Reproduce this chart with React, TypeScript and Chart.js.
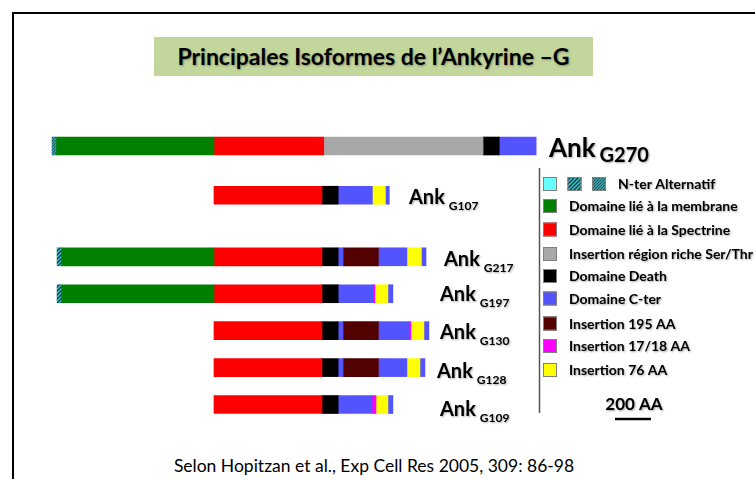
import React, { useEffect, useRef } from 'react';
import { Chart, registerables } from 'chart.js';

Chart.register(...registerables);

// ---- data (amino-acid positions) ----
const isoforms = ['G270', 'G107', 'G217', 'G197', 'G130', 'G128', 'G109'];
const rowSlots = [0, 4, 9, 12, 15, 18, 21];

const segG270 = [['nterDot', 0, 22], ['membrane', 22, 900], ['spectrin', 900, 1510], ['serThr', 1510, 2395], ['death', 2395, 2485], ['cter', 2485, 2690]];
const segG107 = [['spectrin', 900, 1500], ['death', 1500, 1590], ['cter', 1590, 1780], ['ins76', 1780, 1856], ['cter', 1856, 1874]];
const segG217 = [['nterHatch', 28, 50], ['membrane', 50, 900], ['spectrin', 900, 1500], ['death', 1500, 1590], ['cter', 1590, 1617], ['ins195', 1617, 1817], ['cter', 1817, 1972], ['ins76', 1972, 2056], ['cter', 2056, 2078]];
const segG197 = [['nterHatch', 28, 50], ['membrane', 50, 900], ['spectrin', 900, 1500], ['death', 1500, 1590], ['cter', 1590, 1783], ['ins17', 1783, 1794], ['ins76', 1794, 1870], ['cter', 1870, 1894]];
const segG130 = [['spectrin', 900, 1500], ['death', 1500, 1590], ['cter', 1590, 1617], ['ins195', 1617, 1817], ['cter', 1817, 1983], ['ins17', 1983, 1994], ['ins76', 1994, 2070], ['cter', 2070, 2094]];
const segG128 = [['spectrin', 900, 1500], ['death', 1500, 1590], ['cter', 1590, 1617], ['ins195', 1617, 1817], ['cter', 1817, 1972], ['ins76', 1972, 2048], ['cter', 2048, 2072]];
const segG109 = [['spectrin', 900, 1500], ['death', 1500, 1590], ['cter', 1590, 1778], ['ins17', 1778, 1800], ['ins76', 1800, 1870], ['cter', 1870, 1894]];
const allSegments = [segG270, segG107, segG217, segG197, segG130, segG128, segG109];

const domainKeys = ['nterCyan', 'nterHatch', 'nterDot', 'membrane', 'spectrin', 'serThr', 'death', 'cter', 'ins195', 'ins17', 'ins76'];
const legendLabels = ['N-ter Alternatif', 'Domaine lié à la membrane', 'Domaine lié à la Spectrine', 'Insertion région riche Ser/Thr', 'Domaine Death', 'Domaine C-ter', 'Insertion 195 AA', 'Insertion 17/18 AA', 'Insertion 76 AA'];
const legendSwatches = [['nterCyan', 'nterHatch', 'nterDot'], ['membrane'], ['spectrin'], ['serThr'], ['death'], ['cter'], ['ins195'], ['ins17'], ['ins76']];
const scaleBarAA = 200;

const domainColors: Record<string, string> = {
  nterCyan: '#66ffff',
  membrane: '#008000',
  spectrin: '#ff0000',
  serThr: '#a8a8a8',
  death: '#000000',
  cter: '#5454ff',
  ins195: '#520000',
  ins17: '#ff00ff',
  ins76: '#ffff00',
};

const FONT = 'Lato, "Open Sans", sans-serif';

function makePatterns(ctx: CanvasRenderingContext2D) {
  const h = document.createElement('canvas');
  h.width = 4; h.height = 4;
  const hg = h.getContext('2d')!;
  hg.fillStyle = '#35c8cc';
  hg.fillRect(0, 0, 4, 4);
  hg.strokeStyle = '#173a48';
  hg.lineWidth = 1.4;
  hg.beginPath();
  hg.moveTo(0, 4); hg.lineTo(4, 0);
  hg.moveTo(-1, 1); hg.lineTo(1, -1);
  hg.moveTo(3, 5); hg.lineTo(5, 3);
  hg.stroke();
  const d = document.createElement('canvas');
  d.width = 3; d.height = 3;
  const dg = d.getContext('2d')!;
  dg.fillStyle = '#3a9a9c';
  dg.fillRect(0, 0, 3, 3);
  dg.fillStyle = '#1c5a66';
  dg.fillRect(0, 0, 1, 1);
  dg.fillRect(2, 1, 1, 1);
  dg.fillRect(1, 2, 1, 1);
  return {
    nterHatch: ctx.createPattern(h, 'repeat')!,
    nterDot: ctx.createPattern(d, 'repeat')!,
  };
}

export default function App() {
  const canvasRef = useRef<HTMLCanvasElement | null>(null);

  useEffect(() => {
    const canvas = canvasRef.current!;
    const ctx = canvas.getContext('2d')!;
    const patterns = makePatterns(ctx);
    const fillFor = (k: string): any => (patterns as any)[k] || domainColors[k];

    const datasets = domainKeys
      .map((key) => {
        const data: any[] = [];
        allSegments.forEach((segs, i) => {
          segs.forEach((s) => {
            if (s[0] === key) data.push({ x: [s[1] as number, s[2] as number], y: rowSlots[i] });
          });
        });
        return {
          label: key,
          data,
          backgroundColor: fillFor(key),
          borderWidth: 0,
          barThickness: 18,
          grouped: false,
        };
      })
      .filter((d) => d.data.length > 0);

    const annot = {
      id: 'isoAnnot',
      afterDraw(chart: any) {
        const c = chart.ctx as CanvasRenderingContext2D;
        const ys = chart.scales.y;
        const xs = chart.scales.x;
        c.save();
        c.shadowColor = 'rgba(0,0,0,0.35)';
        c.shadowOffsetX = 1;
        c.shadowOffsetY = 1;
        c.shadowBlur = 2;
        c.fillStyle = '#000';
        c.textBaseline = 'alphabetic';
        // isoform labels
        const labelX = [549, 409, 444, 440, 440, 437, 440];
        const dy = [11, 9, 9.5, 7.5, 8.5, 10, 11];
        isoforms.forEach((name, i) => {
          const y = ys.getPixelForValue(rowSlots[i]);
          const big = i === 0;
          c.font = `bold ${big ? 26 : 20}px ${FONT}`;
          c.fillText('Ank', labelX[i], y + dy[i]);
          const w = c.measureText('Ank').width;
          c.font = `bold ${big ? 20 : 12}px ${FONT}`;
          c.fillText(name, labelX[i] + w + 4, y + dy[i] + (big ? 5 : 6));
        });
        // legend separator
        c.shadowColor = 'transparent';
        c.strokeStyle = '#555';
        c.lineWidth = 1.5;
        c.beginPath();
        c.moveTo(539.5, 168);
        c.lineTo(539.5, 413);
        c.stroke();
        // legend entries
        const rowY = [184, 206, 229.5, 254, 276, 298.5, 323.5, 346, 370];
        legendLabels.forEach((label, r) => {
          const y = rowY[r];
          legendSwatches[r].forEach((k, j) => {
            const x = 543 + j * 24.5;
            c.shadowColor = 'transparent';
            c.fillStyle = fillFor(k);
            c.fillRect(x, y - 7, 14, 14);
            c.strokeStyle = '#7f7f7f';
            c.lineWidth = 1;
            c.strokeRect(x + 0.5, y - 6.5, 13, 13);
          });
          c.shadowColor = 'rgba(0,0,0,0.35)';
          c.fillStyle = '#000';
          c.font = `bold 14px ${FONT}`;
          c.textBaseline = 'middle';
          c.fillText(label, r === 0 ? 618 : 569, y + 0.5);
        });
        // scale bar
        c.textBaseline = 'alphabetic';
        c.font = `bold 17px ${FONT}`;
        c.textAlign = 'center';
        const x0 = xs.getPixelForValue(3128);
        const x1 = xs.getPixelForValue(3128 + scaleBarAA);
        c.fillText(`${scaleBarAA} AA`, (x0 + x1) / 2 + 1, 410);
        c.shadowColor = 'transparent';
        c.strokeStyle = '#000';
        c.lineWidth = 2.5;
        c.beginPath();
        c.moveTo(x0, 419);
        c.lineTo(x1, 419);
        c.stroke();
        c.restore();
      },
    };

    const chart = new Chart(canvas, {
      type: 'bar',
      data: { datasets: datasets as any },
      options: {
        indexAxis: 'y',
        animation: false,
        responsive: false,
        events: [],
        layout: { padding: 0 },
        scales: {
          x: { type: 'linear', min: -289, max: 3906, display: false, offset: false, stacked: false },
          y: { type: 'linear', min: -11.86, max: 27.05, reverse: true, display: false, offset: false },
        },
        plugins: { legend: { display: false }, tooltip: { enabled: false }, title: { display: false } },
      },
      plugins: [annot],
    });
    return () => chart.destroy();
  }, []);

  return (
    <div style={{ position: 'absolute', left: 0, top: 0, width: 755, height: 479, background: '#fff', overflow: 'hidden' }}>
      <div style={{ position: 'absolute', left: 12, top: 12, width: 760, height: 480, borderLeft: '2px solid #000', borderTop: '2px solid #000' }} />
      <div
        style={{
          position: 'absolute', left: 154, top: 37, width: 439, height: 39, background: '#c3d69b',
          font: `bold 23px ${FONT}`, color: '#000', lineHeight: '39px', textAlign: 'center',
          textShadow: '1px 1px 2px rgba(0,0,0,0.35)', whiteSpace: 'nowrap',
        }}
      >
        Principales Isoformes de l’Ankyrine –G
      </div>
      <div
        style={{
          position: 'absolute', left: 0, top: 454, width: 748, height: 24, textAlign: 'center',
          font: `17.5px ${FONT}`, lineHeight: '24px', color: '#000', whiteSpace: 'nowrap',
        }}
      >
        Selon Hopitzan et al., Exp Cell Res 2005, 309: 86-98
      </div>
      <canvas ref={canvasRef} width={755} height={479} style={{ position: 'absolute', left: 0, top: 0 }} />
    </div>
  );
}
